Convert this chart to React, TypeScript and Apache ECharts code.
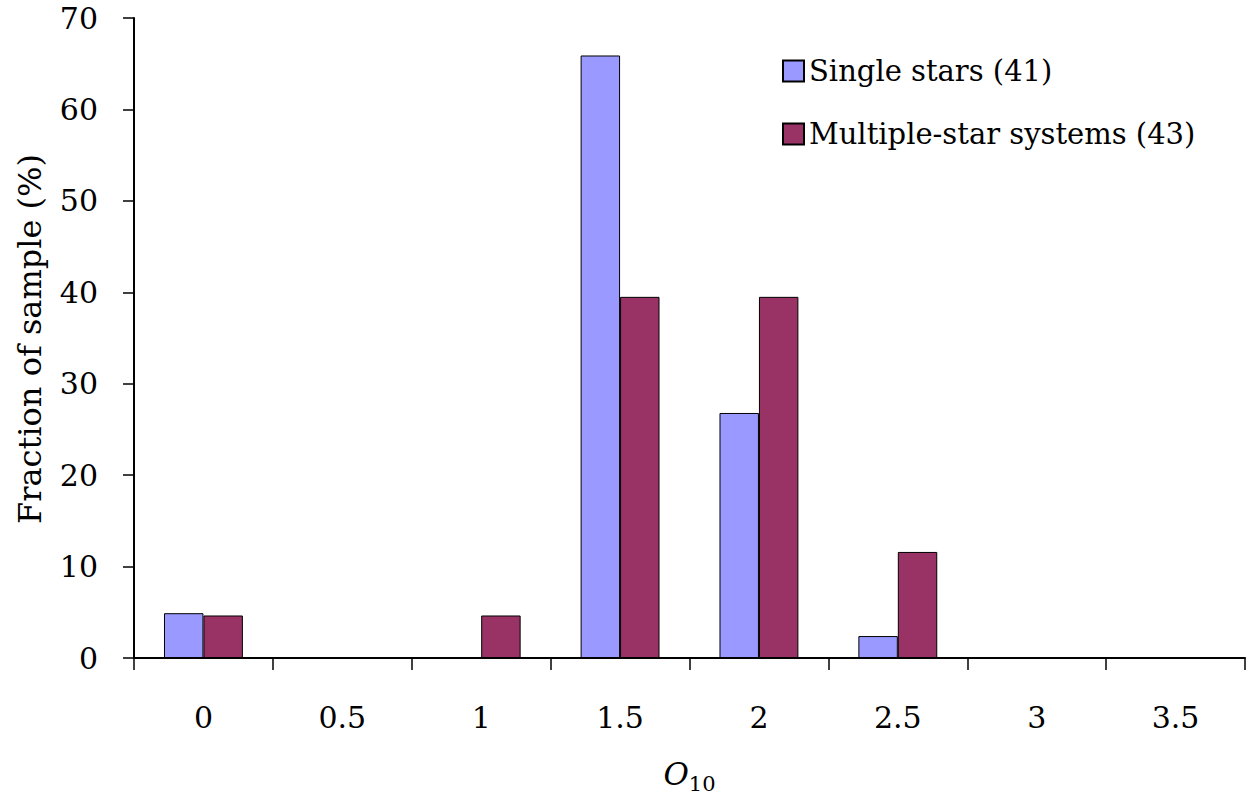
import React, { useEffect, useRef } from "react";
import * as echarts from "echarts";

const categories = ["0", "0.5", "1", "1.5", "2", "2.5", "3", "3.5"];
const singleStars = [4.9, 0, 0, 65.9, 26.8, 2.4, 0, 0];
const multipleStars = [4.65, 0, 4.65, 39.5, 39.5, 11.6, 0, 0];
const seriesNames = ["Single stars (41)", "Multiple-star systems (43)"];
const yTicks = { min: 0, max: 70, interval: 10 };

const FONT = "DejaVu Serif";

export default function App() {
  const ref = useRef<HTMLDivElement>(null);
  useEffect(() => {
    document.body.style.margin = "0";
    const chart = echarts.init(ref.current!, null, { renderer: "svg" });
    chart.setOption({
      animation: false,
      backgroundColor: "#fff",
      textStyle: { fontFamily: FONT, color: "#000" },
      grid: { left: 134, right: 4, top: 18, bottom: 138, containLabel: false },
      legend: {
        orient: "vertical",
        left: 777,
        top: 50,
        icon: "rect",
        itemWidth: 21,
        itemHeight: 21,
        itemGap: 31,
        textStyle: { fontFamily: FONT, fontSize: 29, color: "#000", lineHeight: 32 },
        data: seriesNames,
      },
      xAxis: {
        type: "category",
        data: categories,
        boundaryGap: true,
        axisLine: { show: true, lineStyle: { color: "#000", width: 2 } },
        axisTick: { show: true, alignWithLabel: false, length: 12, lineStyle: { color: "#000", width: 1.5 } },
        axisLabel: { margin: 44, fontFamily: FONT, fontSize: 30, color: "#000" },
        splitLine: { show: false },
        name: "{o|O}{s|10}",
        nameLocation: "middle",
        nameGap: 96,
        nameTextStyle: {
          rich: {
            o: { fontFamily: FONT, fontStyle: "italic", fontSize: 31, lineHeight: 40, verticalAlign: "middle", color: "#000" },
            s: { fontFamily: FONT, fontSize: 21, lineHeight: 20, verticalAlign: "bottom", color: "#000" },
          },
        },
      },
      yAxis: {
        type: "value",
        min: yTicks.min,
        max: yTicks.max,
        interval: yTicks.interval,
        axisLine: { show: true, lineStyle: { color: "#000", width: 2 } },
        axisTick: { show: true, length: 11, lineStyle: { color: "#000", width: 1.5 } },
        axisLabel: { margin: 36, fontFamily: FONT, fontSize: 30, color: "#000" },
        splitLine: { show: false },
      },
      graphic: [
        {
          type: "text",
          x: 30,
          y: 339,
          rotation: Math.PI / 2,
          style: {
            text: "Fraction of sample (%)",
            fontFamily: FONT,
            fontSize: 32,
            fill: "#000",
            align: "center",
            verticalAlign: "middle",
          },
        },
      ],
      series: [
        {
          name: seriesNames[0],
          type: "bar",
          data: singleStars,
          barWidth: "28.4%",
          barGap: "0%",
          itemStyle: { color: "#9999FF", borderColor: "#000", borderWidth: 1 },
        },
        {
          name: seriesNames[1],
          type: "bar",
          data: multipleStars,
          barWidth: "28.4%",
          barGap: "0%",
          itemStyle: { color: "#993366", borderColor: "#000", borderWidth: 1 },
        },
      ],
    });
    return () => chart.dispose();
  }, []);
  return <div ref={ref} style={{ width: 1249, height: 799, position: "absolute", left: 0, top: 0 }} />;
}
